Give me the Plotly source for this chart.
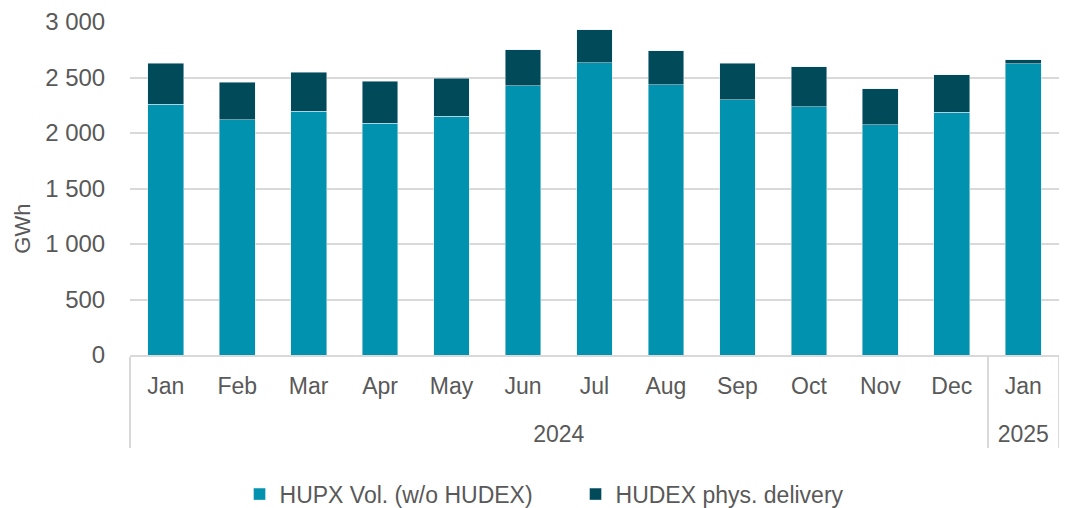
import plotly.graph_objects as go

years = ["<br>2024"] * 12 + ["<br>2025"]
months = ["Jan", "Feb", "Mar", "Apr", "May", "Jun", "Jul", "Aug", "Sep", "Oct", "Nov", "Dec", "Jan"]

# GWh
hupx = [2261, 2121, 2194, 2088, 2152, 2427, 2633, 2436, 2300, 2236, 2073, 2188, 2624]
total = [2627, 2458, 2549, 2467, 2494, 2749, 2931, 2742, 2627, 2597, 2400, 2524, 2658]
hudex = [t - h for t, h in zip(total, hupx)]

grey = "#595959"
fnt = "Liberation Sans, Arial, sans-serif"

fig = go.Figure()
fig.add_trace(go.Bar(x=[years, months], y=hupx, name="HUPX Vol. (w/o HUDEX)",
                     marker_color="#0092AE"))
fig.add_trace(go.Bar(x=[years, months], y=hudex, name="HUDEX phys. delivery",
                     marker_color="#004A59"))

# page body has an 8px margin, so margins are shifted to compensate
fig.update_layout(
    barmode="stack",
    bargap=0.5,
    width=1067, height=508,
    margin=dict(l=122, r=16, t=14, b=161),
    plot_bgcolor="white", paper_bgcolor="white",
    separators=". ",
    font=dict(family=fnt, size=23, color=grey),
    legend=dict(orientation="h", xref="container", yref="container",
                x=0.217, y=0.043, xanchor="left", yanchor="middle",
                font=dict(size=23), traceorder="normal",
                entrywidth=291, entrywidthmode="pixels"),
)
# axis title as an annotation (sits a bit below the plot centre, like the original)
fig.add_annotation(text="GWh", textangle=-90, xref="paper", yref="paper",
                   x=-0.116, y=0.38, xanchor="center", yanchor="middle",
                   showarrow=False, borderpad=0,
                   font=dict(family=fnt, size=22, color=grey))
fig.update_yaxes(range=[0, 3000], dtick=500, tickformat=",d", automargin=False,
                 showgrid=True, gridcolor="#D9D9D9", gridwidth=1.5,
                 zeroline=False, ticks="outside", ticklen=19,
                 tickcolor="rgba(0,0,0,0)", tickfont=dict(size=24))
fig.update_xaxes(showline=True, linecolor="#D9D9D9", linewidth=1.5, automargin=False,
                 showdividers=True, dividercolor="#D9D9D9", dividerwidth=1.5,
                 ticks="", ticklabelstandoff=10, tickfont=dict(size=23))

fig.write_html("out.html")
